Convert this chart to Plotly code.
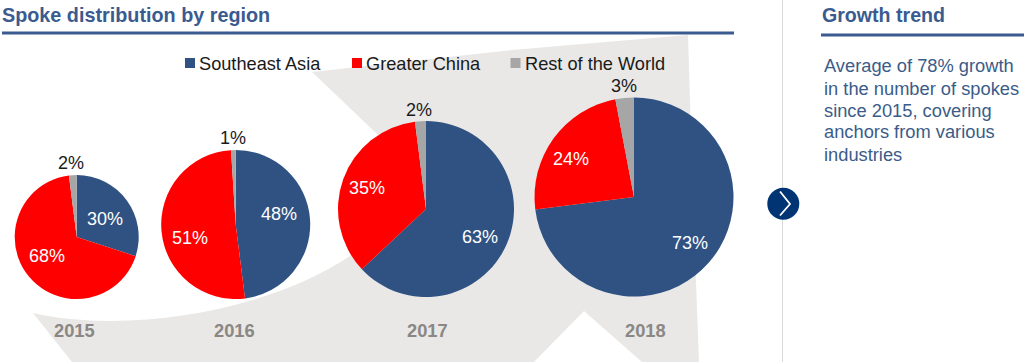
import plotly.graph_objects as go

# ---- data ----
years = ["2015", "2016", "2017", "2018"]
regions = ["Southeast Asia", "Greater China", "Rest of the World"]
southeast_asia = [30, 48, 63, 73]
greater_china = [68, 51, 35, 24]
rest_of_world = [2, 1, 2, 3]
left_title = "Spoke distribution by region"
right_title = "Growth trend"
body_lines = ["Average of 78% growth", "in the number of spokes", "since 2015, covering",
              "anchors from various", "industries"]

# ---- layout constants (pixels) ----
W, H = 1024, 362
NAVY, RED, GRAY = "#2f5283", "#ff0000", "#a6a6a6"
TITLE_C, BODY_C, YEAR_C = "#3a5b8f", "#3b5c88", "#8a8784"
FONT = "Liberation Sans, Arial, sans-serif"
pie_geom = [(76.7, 237, 62), (235.7, 224.5, 74.5), (426, 209, 88), (634, 197, 99.5)]
sea_pos = [(105, 219), (279, 214), (480, 237), (690, 243)]
gc_pos = [(47, 256), (190, 238), (367, 188), (571, 159)]
row_pos = [(71, 163), (233, 138), (419, 110), (624, 86)]
year_pos = [(74, 330), (234, 330), (427, 330), (645, 330)]
legend_x = [(185, 199), (352, 366), (510.5, 525)]
colors = [NAVY, RED, GRAY]


def px(x):
    return x / W


def py(y):
    return 1 - y / H


fig = go.Figure()
for i, year in enumerate(years):
    cx, cy, r = pie_geom[i]
    fig.add_trace(go.Pie(
        labels=regions,
        values=[southeast_asia[i], greater_china[i], rest_of_world[i]],
        name=year, sort=False, direction="clockwise", rotation=0,
        marker=dict(colors=colors, line=dict(width=0)),
        textinfo="none", hoverinfo="label+percent", showlegend=False,
        domain=dict(x=[px(cx - r), px(cx + r)], y=[py(cy + r), py(cy - r)]),
    ))

shapes = []


def rect(x0, y0, x1, y1, color):
    shapes.append(dict(type="rect", xref="paper", yref="paper", x0=px(x0), x1=px(x1), y0=py(y0), y1=py(y1),
                       fillcolor=color, line=dict(width=0), layer="below"))


def pt(x, y):
    return f"{px(x):.5f},{py(y):.5f}"


arrow = (f"M{pt(33,313)} C{pt(130,335)} {pt(270,310)} {pt(350,256)} L{pt(420,175)} L{pt(312,72)} "
         f"L{pt(512,50)} L{pt(688,35)} L{pt(690,100)} L{pt(696,281)} L{pt(699,362)} L{pt(642,362)} "
         f"L{pt(584,311)} L{pt(534,362)} L{pt(72,362)} Z")
shapes.append(dict(type="path", xref="paper", yref="paper", path=arrow, fillcolor="#e9e8e6",
                   line=dict(width=0), layer="below"))
rect(2, 31.5, 734, 34.5, "#3a5b8f")
rect(821, 33.5, 1024, 36.5, "#3a5b8f")
rect(782, 0, 783, 362, "#d9d9d9")
for (sx, _), c in zip(legend_x, colors):
    rect(sx, 58, sx + 10, 68, c)
shapes.append(dict(type="circle", xref="paper", yref="paper", x0=px(767.3), x1=px(799.3),
                   y0=py(219.7), y1=py(187.7), fillcolor="#003473", line=dict(width=0), layer="above"))
shapes.append(dict(type="path", xref="paper", yref="paper",
                   path=f"M{pt(780,191.5)} L{pt(790,204)} L{pt(780,215.5)}",
                   line=dict(color="#ffffff", width=1.8), layer="above"))

ann = []


def text(x, y, s, size=18, color="#1a1a1a", anchor="center", bold=False):
    ann.append(dict(xref="paper", yref="paper", x=px(x), y=py(y), text=f"<b>{s}</b>" if bold else s,
                    showarrow=False, xanchor=anchor, yanchor="middle", align=anchor,
                    font=dict(family=FONT, size=size, color=color), borderpad=0, borderwidth=0))


text(2, 15, left_title, size=19.8, color=TITLE_C, anchor="left", bold=True)
text(822, 15, right_title, size=19.6, color=TITLE_C, anchor="left", bold=True)
for (_, tx), name in zip(legend_x, regions):
    text(tx, 63.5, name, size=18.2, anchor="left")
for i, year in enumerate(years):
    text(*sea_pos[i], f"{southeast_asia[i]}%", color="#ffffff")
    text(*gc_pos[i], f"{greater_china[i]}%", color="#ffffff")
    text(*row_pos[i], f"{rest_of_world[i]}%")
    text(*year_pos[i], year, size=18.3, color=YEAR_C, bold=True)
for k, line in enumerate(body_lines):
    text(824, 66 + 22 * k, line, size=18.3, color=BODY_C, anchor="left")

fig.update_layout(width=W, height=H, margin=dict(l=0, r=0, t=0, b=0, pad=0), autosize=False,
                  paper_bgcolor="#ffffff", plot_bgcolor="#ffffff", showlegend=False,
                  shapes=shapes, annotations=ann)
fig.write_html("out.html", config=dict(displayModeBar=False),
               post_script="document.body.style.margin='0';document.body.style.overflow='hidden';")
